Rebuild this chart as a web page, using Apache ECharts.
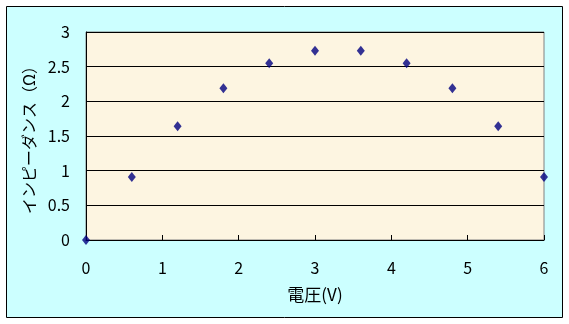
<!DOCTYPE html>
<html><head><meta charset="utf-8">
<script src="https://cdn.jsdelivr.net/npm/echarts@6/dist/echarts.min.js"></script>
<style>html,body{margin:0;padding:0;background:#fff}#c{width:569px;height:324px}</style>
</head><body><div id="c"></div>
<script>
const voltage = [0, 0.6, 1.2, 1.8, 2.4, 3.0, 3.6, 4.2, 4.8, 5.4, 6.0];
const impedance = [0, 0.91, 1.64, 2.19, 2.55, 2.73, 2.73, 2.55, 2.19, 1.64, 0.91];
const xTitle = '電圧(V)';
const yTitle = 'インピーダンス（Ω）';

const chart = echarts.init(document.getElementById('c'));
const font = '"MS PGothic","Noto Sans CJK JP","DejaVu Sans",sans-serif';
chart.setOption({
  backgroundColor: '#ffffff',
  animation: false,
  graphic: [{
    type: 'rect', z: -10, silent: true,
    shape: {x: 6.5, y: 6.5, width: 556, height: 311},
    style: {fill: '#CCFFFF', stroke: '#000', lineWidth: 1}
  }],
  grid: {
    left: 86, top: 32, right: 25, bottom: 84, show: true,
    backgroundColor: '#FDF5E1', borderColor: '#808080', borderWidth: 1
  },
  xAxis: {
    type: 'value', min: 0, max: 6, interval: 1,
    name: xTitle, nameLocation: 'middle', nameGap: 46,
    nameTextStyle: {fontFamily: font, fontSize: 17, color: '#000'},
    axisLine: {lineStyle: {color: '#000', width: 1}},
    axisTick: {inside: true, length: 5, lineStyle: {color: '#000'}},
    axisLabel: {fontFamily: font, fontSize: 16, color: '#000', margin: 20},
    splitLine: {show: false}
  },
  yAxis: {
    type: 'value', min: 0, max: 3, interval: 0.5,
    name: yTitle, nameLocation: 'middle', nameGap: 43, nameRotate: 90,
    nameTextStyle: {fontFamily: font, fontSize: 16, color: '#000'},
    axisLine: {show: true, lineStyle: {color: '#000', width: 1}},
    axisTick: {show: true, inside: true, length: 4, lineStyle: {color: '#000'}},
    axisLabel: {fontFamily: font, fontSize: 16, color: '#000', margin: 16},
    splitLine: {show: true, lineStyle: {color: '#000', width: 1}}
  },
  series: [{
    type: 'scatter',
    data: voltage.map((v, i) => [v, impedance[i]]),
    symbol: 'diamond', symbolSize: [8, 10],
    itemStyle: {color: '#000080'},
    clip: false
  }]
});
</script></body></html>
